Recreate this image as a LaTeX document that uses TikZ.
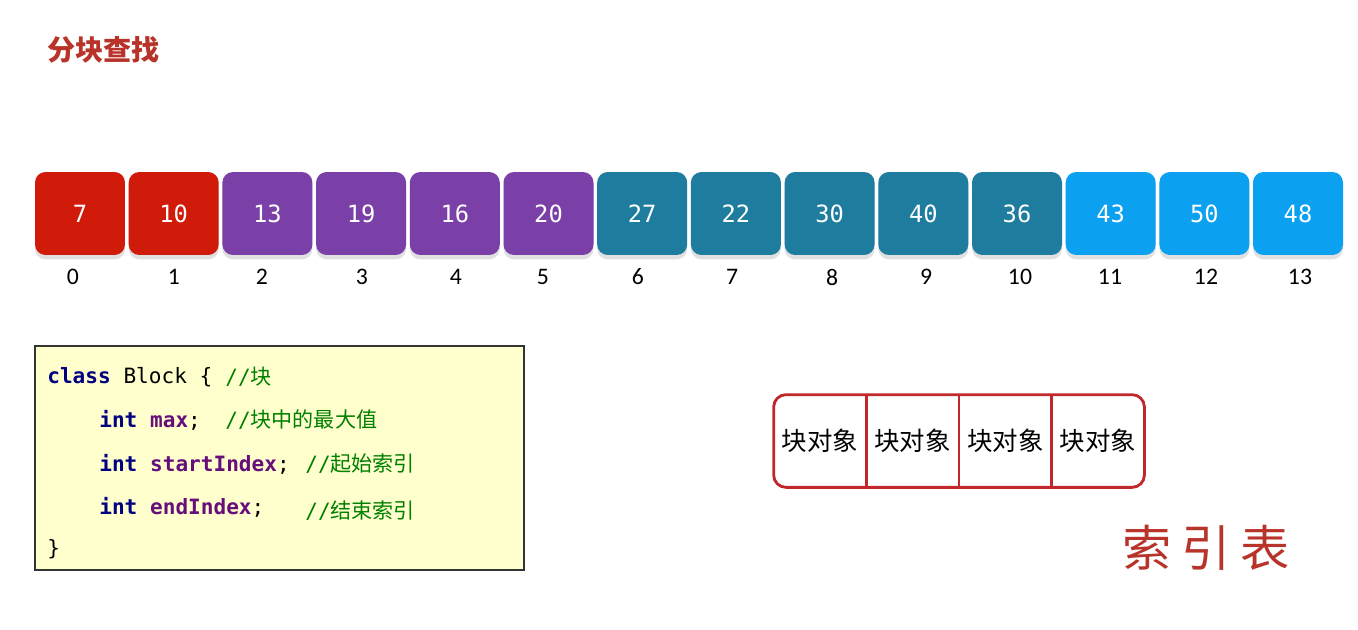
\documentclass[tikz,border=0pt]{standalone}
\usepackage{fontspec}
\setmainfont{Carlito}
\setmonofont{DejaVu Sans Mono}
\newfontfamily\cjk{Noto Sans CJK SC}
\usetikzlibrary{positioning,shadows}
\definecolor{cellred}{RGB}{208,26,10}
\definecolor{cellpurple}{RGB}{122,64,168}
\definecolor{cellteal}{RGB}{30,124,158}
\definecolor{cellblue}{RGB}{12,160,240}
\definecolor{codebg}{RGB}{255,255,206}
\definecolor{kw}{RGB}{0,0,128}
\definecolor{fld}{RGB}{102,14,122}
\definecolor{cmt}{RGB}{0,128,0}
\definecolor{tblred}{RGB}{192,40,44}
\definecolor{titlered}{RGB}{184,52,42}
\tikzset{
  cell/.style={rounded corners=6pt, minimum width=1.8cm, minimum height=1.66cm,
    text=white, font=\ttfamily\fontsize{13.5}{13.5}\selectfont,
    drop shadow={shadow xshift=0pt, shadow yshift=-2.5pt, fill=black, opacity=0.12}},
  idx/.style={font=\fontsize{13.5}{13.5}\selectfont},
  codeline/.style={anchor=west, inner sep=0pt, font=\ttfamily\fontsize{12}{12}\selectfont},
  comment/.style={codeline, text=cmt},
  tblcell/.style={minimum width=1.84cm, minimum height=1.84cm, inner sep=0pt,
    font=\cjk\fontsize{14.5}{14.5}\selectfont}
}
\begin{document}
\begin{tikzpicture}[x=0.02cm,y=-0.02cm]
    \useasboundingbox[fill=white] (0,0) rectangle (1358,629);

    % title
    \node [text=titlered, font=\cjk\bfseries\fontsize{16}{16}\selectfont, anchor=west, inner sep=0pt] (title) at (47,50) {分块查找};

    % the array
    \node [cell, fill=cellred] (b0) at (80,213.5) {7};
    \node [cell, fill=cellred] (b1) at (173.7,213.5) {10};
    \node [cell, fill=cellpurple] (b2) at (267.4,213.5) {13};
    \node [cell, fill=cellpurple] (b3) at (361.1,213.5) {19};
    \node [cell, fill=cellpurple] (b4) at (454.8,213.5) {16};
    \node [cell, fill=cellpurple] (b5) at (548.5,213.5) {20};
    \node [cell, fill=cellteal] (b6) at (642.2,213.5) {27};
    \node [cell, fill=cellteal] (b7) at (735.9,213.5) {22};
    \node [cell, fill=cellteal] (b8) at (829.6,213.5) {30};
    \node [cell, fill=cellteal] (b9) at (923.3,213.5) {40};
    \node [cell, fill=cellteal] (b10) at (1017,213.5) {36};
    \node [cell, fill=cellblue] (b11) at (1110.7,213.5) {43};
    \node [cell, fill=cellblue] (b12) at (1204.4,213.5) {50};
    \node [cell, fill=cellblue] (b13) at (1298,213.5) {48};

    % indices
    \node [idx] (i0) at (73,277) {0};
    \node [idx] (i1) at (174,277) {1};
    \node [idx] (i2) at (262,277) {2};
    \node [idx] (i3) at (362,277) {3};
    \node [idx] (i4) at (456,277) {4};
    \node [idx] (i5) at (543,277) {5};
    \node [idx] (i6) at (638,277) {6};
    \node [idx] (i7) at (732,277) {7};
    \node [idx] (i8) at (832,277) {8};
    \node [idx] (i9) at (926,277) {9};
    \node [idx] (i10) at (1020,277) {10};
    \node [idx] (i11) at (1110,277) {11};
    \node [idx] (i12) at (1206,277) {12};
    \node [idx] (i13) at (1300,277) {13};

    % the Block class
    \draw [fill=codebg, draw=black!80, line width=0.6pt] (35,346) rectangle (524,570);
    \node [codeline] (l1) at (47,377) {\textcolor{kw}{\bfseries class} Block \{};
    \node [codeline] (l2) at (99,420) {\textcolor{kw}{\bfseries int} \textcolor{fld}{\bfseries max};};
    \node [codeline] (l3) at (99,464) {\textcolor{kw}{\bfseries int} \textcolor{fld}{\bfseries startIndex};};
    \node [codeline] (l4) at (99,507) {\textcolor{kw}{\bfseries int} \textcolor{fld}{\bfseries endIndex};};
    \node [codeline] (l5) at (47,549) {\}};
    \node [comment] (k1) at (225,377) {//{\cjk 块}};
    \node [comment] (k2) at (225,420) {//{\cjk 块中的最大值}};
    \node [comment] (k3) at (305,464) {//{\cjk 起始索引}};
    \node [comment] (k4) at (305,511) {//{\cjk 结束索引}};

    % index table
    \node [tblcell] (c1) at (820,441) {块对象};
    \node [tblcell, right=0pt of c1] (c2) {块对象};
    \node [tblcell, right=0pt of c2] (c3) {块对象};
    \node [tblcell, right=0pt of c3] (c4) {块对象};
    \draw [tblred, line width=1.6pt, rounded corners=7pt] (c1.north west) rectangle (c4.south east);
    \draw [tblred, line width=1.6pt] (c1.north east) -- (c1.south east)
        (c2.north east) -- (c2.south east)
        (c3.north east) -- (c3.south east);
    \node [text=titlered, font=\cjk\fontsize{28}{28}\selectfont] (tbl) at (1206,548) {索\hspace{0.2em}引\hspace{0.2em}表};
\end{tikzpicture}
\end{document}
